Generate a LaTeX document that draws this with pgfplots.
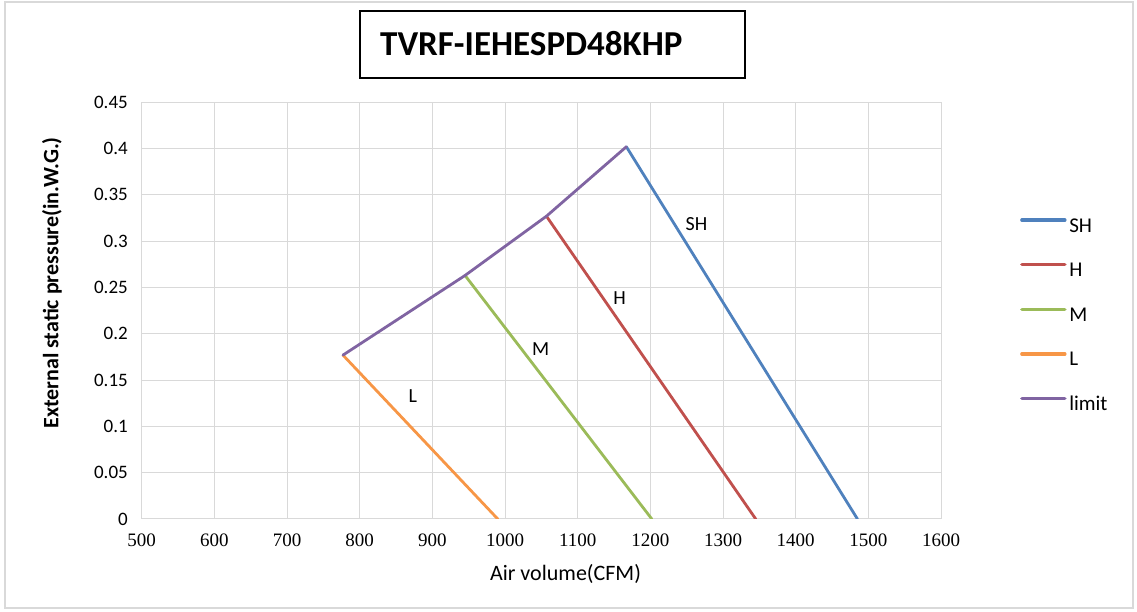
\documentclass[border=0pt]{standalone}
\usepackage{fontspec}
\setmainfont{Carlito}
\newfontfamily\tickserif{Liberation Serif}
\usepackage{pgfplots}
\pgfplotsset{compat=1.18}

\definecolor{cSH}{RGB}{79,129,189}
\definecolor{cH}{RGB}{192,80,77}
\definecolor{cM}{RGB}{155,187,89}
\definecolor{cL}{RGB}{247,150,70}
\definecolor{cLim}{RGB}{128,100,162}
\definecolor{gridgray}{RGB}{217,217,217}

\begin{document}
\begin{tikzpicture}
% page = 1137 x 612 px, 1px = 1pt, origin at the plot's lower left corner
\path[use as bounding box] (-141.7pt,-93pt) rectangle (995.3pt,519pt);
\draw[gridgray, line width=1.5pt] (-136.7pt,-89pt) rectangle (991.3pt,517pt);

\begin{axis}[
    at={(0pt,0pt)}, anchor=south west,
    scale only axis,
    width=799.3pt, height=416.7pt,
    xmin=500, xmax=1600,
    ymin=0, ymax=0.45,
    xtick={500,600,700,800,900,1000,1100,1200,1300,1400,1500,1600},
    ytick={0,0.05,0.1,0.15,0.2,0.25,0.3,0.35,0.4,0.45},
    grid=major,
    grid style={gridgray, line width=1pt},
    axis line style={gridgray, line width=1pt},
    major tick length=0pt,
    tick style={draw=none},
    /pgf/number format/assume math mode=true,
    /pgf/number format/1000 sep={},
    yticklabel style={font=\fontsize{19}{19}\selectfont, anchor=east,
        inner sep=0pt, xshift=-13.7pt,
        /pgf/number format/fixed, /pgf/number format/precision=2},
    xticklabel style={font=\tickserif\fontsize{19}{19}\selectfont, anchor=north,
        inner sep=0pt, yshift=-15pt},
    legend style={draw=none, fill=none, at={(1.0988,0.7248)}, anchor=north west,
        inner sep=0pt, row sep=24.6pt, font=\fontsize{21}{21}\selectfont,
        nodes={inner sep=0pt, text height=15pt, text depth=5pt}},
    legend cell align=left,
    legend image code/.code={
        \draw[#1, line width=3.4pt, line cap=round] (1pt,7pt) -- (44pt,7pt);
        \path (47pt,0pt);
    },
    every axis plot/.append style={line width=2.8pt, line cap=round, line join=round},
]
\addplot[cSH] coordinates {(1167,0.402) (1485,0)};
\addlegendentry{SH}
\addplot[cH] coordinates {(1057,0.327) (1345,0)};
\addlegendentry{H}
\addplot[cM] coordinates {(945,0.263) (1202,0)};
\addlegendentry{M}
\addplot[cL] coordinates {(777,0.177) (990,0)};
\addlegendentry{L}
\addplot[cLim] coordinates {(777,0.177) (945,0.263) (1057,0.327) (1167,0.402)};
\addlegendentry{limit}

\node[font=\fontsize{20}{20}\selectfont] at (axis cs:1263.5,0.3186) {SH};
\node[font=\fontsize{20}{20}\selectfont] at (axis cs:1157.6,0.2387) {H};
\node[font=\fontsize{20}{20}\selectfont] at (axis cs:1049,0.1836) {M};
\node[font=\fontsize{20}{20}\selectfont] at (axis cs:873,0.1323) {L};
\end{axis}

% title box
\draw[black, line width=1.8pt] (218.3pt,441.3pt) rectangle (603.3pt,508pt);
\node[anchor=west, inner sep=0pt, font=\fontsize{35}{35}\selectfont\bfseries]
    at (238.3pt,475.3pt) {TVRF-IEHESPD48KHP};

% axis titles
\node[rotate=90, inner sep=0pt, font=\fontsize{22}{22}\selectfont\bfseries]
    at (-89.7pt,236pt) {External static pressure(in.W.G.)};
\node[anchor=base, inner sep=0pt, font=\fontsize{22}{22}\selectfont]
    at (423.8pt,-62pt) {Air volume(CFM)};
\end{tikzpicture}
\end{document}
